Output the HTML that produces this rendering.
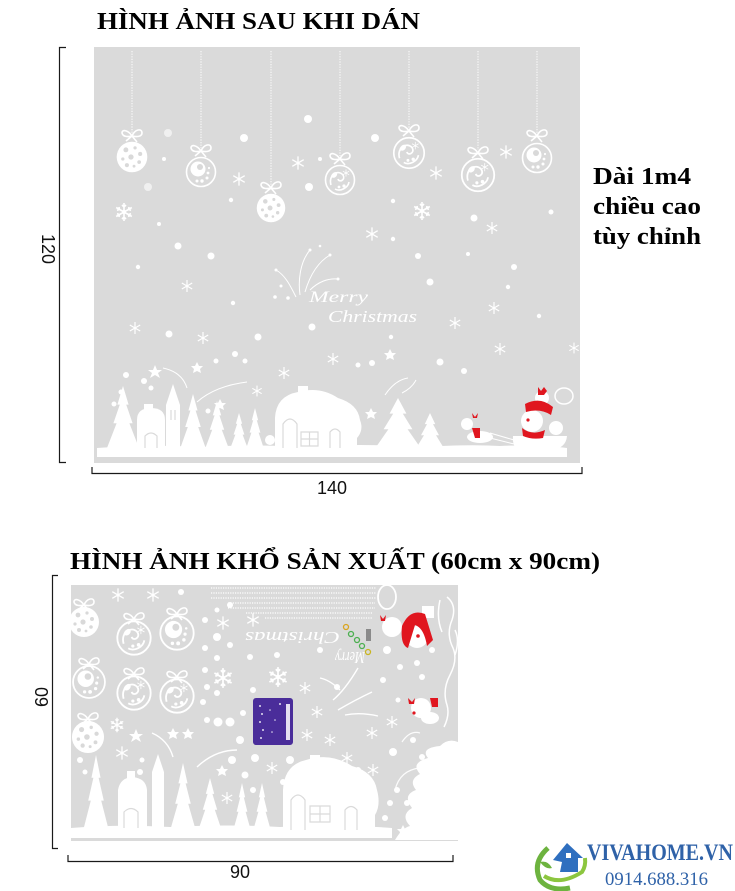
<!DOCTYPE html>
<html><head><meta charset="utf-8"><style>
html,body{margin:0;padding:0;background:#fff;}
svg{display:block;}
</style></head><body>
<svg width="735" height="891" viewBox="0 0 735 891" xmlns="http://www.w3.org/2000/svg">
<defs>
  <g id="sf"><path d="M0 -6V6M-5.2 -3L5.2 3M-5.2 3L5.2 -3" stroke="#fff" stroke-width="1.2" fill="none"/><circle r="1.3" fill="#fff"/></g>
  <g id="sfb"><path d="M0 -9V9M-7.8 -4.5L7.8 4.5M-7.8 4.5L7.8 -4.5M-2 -7L0 -5L2 -7M-2 7L0 5L2 7M-7 -1.6L-4.5 -2.6L-5 -5M7 1.6L4.5 2.6L5 5M7 -1.6L4.5 -2.6L5 -5M-7 1.6L-4.5 2.6L-5 5" stroke="#fff" stroke-width="1.6" fill="none"/><circle r="2" fill="#fff"/></g>
  <g id="bow"><path d="M0 0C-4 -6 -10 -7 -10 -3C-9 1 -4 1 0 0C3 -7 10 -8 10 -3C10 1 4 1 0 0M0 0L-6 5M0 0L5 6" stroke="#fff" stroke-width="1.6" fill="none"/></g>
  <g id="ballF"><circle r="15" fill="#fff"/>
    <circle cx="-6" cy="-7" r="2.4" fill="#d9d9d9"/><circle cx="3" cy="-9" r="1.6" fill="#d9d9d9"/><circle cx="8" cy="-3" r="2" fill="#d9d9d9"/>
    <circle cx="-9" cy="2" r="1.6" fill="#d9d9d9"/><circle cx="-1" cy="0" r="2.6" fill="#d9d9d9"/><circle cx="7" cy="5" r="1.8" fill="#d9d9d9"/>
    <circle cx="-5" cy="8" r="2" fill="#d9d9d9"/><circle cx="2" cy="9" r="1.4" fill="#d9d9d9"/></g>
  <g id="ballR"><circle r="14.5" fill="none" stroke="#fff" stroke-width="1.6"/><circle cx="-3" cy="-3" r="7.5" fill="#fff"/><circle cx="-1" cy="-5" r="3" fill="#d9d9d9"/>
    <circle cx="7" cy="1" r="1.4" fill="#fff"/><circle cx="6" cy="6" r="1.5" fill="#fff"/><circle cx="1" cy="9" r="1.7" fill="#fff"/><circle cx="-4" cy="9" r="1.5" fill="#fff"/><circle cx="8" cy="-4" r="1.1" fill="#fff"/></g>
  <g id="ballS"><circle r="14.5" fill="none" stroke="#fff" stroke-width="1.6"/>
    <path d="M-9 5C-12 -5 -2 -11 3 -5C6 0 -1 3 -2 -1M-5 9C0 12 8 8 9 2" stroke="#fff" stroke-width="1.6" fill="none"/>
    <path d="M-9 -4C-7 -9 -2 -9 -3 -5C-4 -2 -8 -1 -9 -4Z" fill="#fff"/>
    <circle cx="4" cy="6" r="1.6" fill="#fff"/><circle cx="-1" cy="7" r="1.4" fill="#fff"/>
    <use href="#sf" transform="translate(6 -7) scale(0.6)"/></g>
  <path id="tree" d="M0 0L0.35 0.3L0.2 0.3L0.6 0.6L0.4 0.6L1 1L-1 1L-0.4 0.6L-0.6 0.6L-0.2 0.3L-0.35 0.3Z" fill="#fff"/>
</defs>

<!-- Title 1 -->
<text x="97" y="29" font-family="Liberation Serif, serif" font-weight="bold" font-size="24" fill="#000" textLength="323" lengthAdjust="spacingAndGlyphs">HÌNH ẢNH SAU KHI DÁN</text>

<!-- Panel 1 -->
<rect x="94" y="47" width="486" height="416" fill="#dadada"/>

<!-- strings -->
<g stroke="#fff" stroke-width="1" stroke-dasharray="1.2 1.4">
  <line x1="132" y1="51" x2="132" y2="133"/>
  <line x1="201" y1="51" x2="201" y2="148"/>
  <line x1="271" y1="51" x2="271" y2="185"/>
  <line x1="340" y1="51" x2="340" y2="156"/>
  <line x1="409" y1="51" x2="409" y2="128"/>
  <line x1="478" y1="51" x2="478" y2="150"/>
  <line x1="537" y1="51" x2="537" y2="133"/>
</g>
<use href="#bow" transform="translate(132 136)"/>
<use href="#bow" transform="translate(201 151)"/>
<use href="#bow" transform="translate(271 188)"/>
<use href="#bow" transform="translate(340 159)"/>
<use href="#bow" transform="translate(409 131)"/>
<use href="#bow" transform="translate(478 153)"/>
<use href="#bow" transform="translate(537 136)"/>
<use href="#ballF" transform="translate(132 157) scale(1.02)"/>
<use href="#ballR" transform="translate(201 172)"/>
<use href="#ballF" transform="translate(271 208) scale(0.95)"/>
<use href="#ballS" transform="translate(340 180)"/>
<use href="#ballS" transform="translate(409 153) scale(1.05)"/>
<use href="#ballS" transform="translate(478 175) scale(1.12)"/>
<use href="#ballR" transform="translate(537 158)"/>

<!-- dots panel1 -->
<g fill="#fff">
  <circle cx="308" cy="119" r="4"/><circle cx="168" cy="133" r="4" opacity="0.6"/><circle cx="244" cy="138" r="4"/><circle cx="375" cy="138" r="4"/>
  <circle cx="164" cy="159" r="2"/><circle cx="320" cy="159" r="2"/><circle cx="148" cy="187" r="4" opacity="0.6"/><circle cx="309" cy="187" r="4"/>
  <circle cx="231" cy="200" r="2.2"/><circle cx="393" cy="201" r="2.2"/><circle cx="551" cy="212" r="2.5"/><circle cx="474" cy="218" r="3.5"/>
  <circle cx="159" cy="224" r="2"/><circle cx="393" cy="239" r="2.2"/><circle cx="178" cy="246" r="3.5"/><circle cx="211" cy="256" r="3.5"/>
  <circle cx="418" cy="256" r="3"/><circle cx="468" cy="254" r="2"/><circle cx="138" cy="267" r="2.2"/><circle cx="514" cy="267" r="3"/>
  <circle cx="430" cy="282" r="3.5"/><circle cx="508" cy="287" r="2.2"/><circle cx="233" cy="303" r="2.2"/><circle cx="312" cy="327" r="3.5"/>
  <circle cx="169" cy="334" r="3.5"/><circle cx="258" cy="337" r="3.5"/><circle cx="391" cy="337" r="2.2"/><circle cx="539" cy="316" r="2.2"/>
  <circle cx="235" cy="354" r="3"/><circle cx="440" cy="362" r="3.5"/><circle cx="464" cy="371" r="3"/><circle cx="358" cy="365" r="2.5"/>
  <circle cx="372" cy="363" r="3"/><circle cx="216" cy="361" r="2.5"/><circle cx="126" cy="375" r="3"/><circle cx="245" cy="361" r="2.5"/>
  <circle cx="121" cy="392" r="2.5"/><circle cx="114" cy="404" r="2.5"/><circle cx="151" cy="388" r="2.5"/><circle cx="144" cy="381" r="3"/>
  <circle cx="208" cy="411" r="2.5"/><circle cx="270" cy="440" r="5"/>
</g>
<!-- snowflakes panel1 -->
<use href="#sfb" transform="translate(124 212)"/>
<use href="#sfb" transform="translate(422 211)"/>
<use href="#sf" transform="translate(492 228)"/>
<use href="#sf" transform="translate(298 163) scale(1.1)"/>
<use href="#sf" transform="translate(239 179) scale(1.1)"/>
<use href="#sf" transform="translate(436 173) scale(1.1)"/>
<use href="#sf" transform="translate(506 152) scale(1.1)"/>
<use href="#sf" transform="translate(372 234) scale(1.1)"/>
<use href="#sf" transform="translate(187 286)"/>
<use href="#sf" transform="translate(135 328)"/>
<use href="#sf" transform="translate(203 338)"/>
<use href="#sf" transform="translate(455 323)"/>
<use href="#sf" transform="translate(494 308)"/>
<use href="#sf" transform="translate(500 349)"/>
<use href="#sf" transform="translate(333 359)"/>
<use href="#sf" transform="translate(284 373)"/>
<use href="#sf" transform="translate(257 391) scale(0.9)"/>
<use href="#sf" transform="translate(574 348) scale(0.9)"/>

<!-- Merry Christmas top -->
<g stroke="#fff" stroke-width="1" fill="none">
  <path d="M300 295C298 280 300 262 310 250M305 292C310 275 318 262 330 255M296 297C290 285 285 275 276 270M310 290C318 282 328 278 338 279"/>
</g>
<g fill="#fff"><circle cx="310" cy="250" r="1.5"/><circle cx="330" cy="255" r="1.5"/><circle cx="276" cy="270" r="1.5"/><circle cx="338" cy="279" r="1.5"/><circle cx="320" cy="246" r="1.3"/><circle cx="281" cy="286" r="1.5"/><circle cx="288" cy="298" r="1.8"/><circle cx="275" cy="297" r="1.8"/></g>
<text x="309" y="302" font-family="Liberation Serif, serif" font-style="italic" font-size="16" fill="#fff" textLength="59" lengthAdjust="spacingAndGlyphs">Merry</text>
<text x="328" y="322" font-family="Liberation Serif, serif" font-style="italic" font-size="17" fill="#fff" textLength="89" lengthAdjust="spacingAndGlyphs">Christmas</text>

<!-- village panel1 -->
<g fill="#fff">
  <use href="#tree" transform="translate(123 386) scale(16 62)"/>
  <path d="M137 450V420Q137 408 151 408Q165 408 165 420V450Z"/>
  <rect x="144" y="404" width="9" height="7"/>
  <path d="M166 450V405L173 384L180 405V450Z"/>
  <use href="#tree" transform="translate(193 394) scale(13 55)"/>
  <use href="#tree" transform="translate(217 401) scale(12 48)"/>
  <use href="#tree" transform="translate(239 413) scale(9 36)"/>
  <use href="#tree" transform="translate(255 408) scale(9 41)"/>
  <path d="M275 450V418Q276 396 298 392Q320 386 338 398Q358 404 360 420Q364 430 357 438V450Z"/>
  <rect x="298" y="386" width="10" height="10"/>
  <use href="#tree" transform="translate(398 398) scale(24 52)"/>
  <use href="#tree" transform="translate(430 413) scale(15 37)"/>
  <path d="M97 448Q150 444 200 447Q260 444 300 447Q360 443 420 447Q470 444 500 446Q540 444 567 448V457H97Z"/>
  <circle cx="467" cy="424" r="6"/>
  <ellipse cx="480" cy="437" rx="13" ry="6"/>
  <path d="M513 436H567Q566 448 552 450H520Q512 448 513 436Z"/>
  <circle cx="532" cy="421" r="11"/>
  <circle cx="542" cy="398" r="7"/>
  <circle cx="556" cy="428" r="7"/>
</g>
<ellipse cx="564" cy="396" rx="9" ry="8" fill="none" stroke="#fff" stroke-width="1.5"/>
<!-- house windows -->
<g stroke="#dadada" stroke-width="1.2" fill="none">
  <path d="M283 448V424Q290 414 297 424V448M301 432H318V446H301ZM309.5 432V446M301 439H318M330 448V432Q335 426 340 432V448M145 448V436Q151 430 157 436V448M171 410V420M175 410V420"/>
</g>
<g stroke="#fff" stroke-width="1" fill="none">
  <path d="M163 368Q182 372 187 388M197 402Q215 386 247 382M385 395Q395 380 408 378M402 393Q412 388 416 380M490 433L514 440M490 438L514 444"/>
</g>
<g fill="#fff">
  <path d="M155 365L157 370L162 370L158 373L160 378L155 375L150 378L152 373L148 370L153 370Z"/>
  <path d="M197 362L199 366L203 366L200 369L201 373L197 371L193 373L194 369L191 366L195 366Z"/>
  <path d="M220 399L222 403L226 403L223 406L224 410L220 408L216 410L217 406L214 403L218 403Z"/>
  <path d="M390 349L392 353L396 353L393 356L394 360L390 358L386 360L387 356L384 353L388 353Z"/>
  <path d="M371 408L373 412L377 412L374 415L375 419L371 417L367 419L368 415L365 412L369 412Z"/>
</g>
<g fill="#e0161f">
  <path d="M472 413l3 4l3 -4l-1 5h-4z"/>
  <path d="M472 428h8v10h-5z"/>
  <path d="M538 387l3 4l3 -4l3 4l-3 4h-6z"/>
  <path d="M525 404Q540 396 553 407L551 415Q540 408 526 412Z"/>
  <path d="M522 428Q532 436 545 430L543 438Q532 440 523 436Z"/>
  <circle cx="528" cy="420" r="1.6"/>
</g>

<!-- right text -->
<g font-family="Liberation Serif, serif" font-weight="bold" font-size="24" fill="#000">
  <text x="593" y="184" textLength="98" lengthAdjust="spacingAndGlyphs">Dài 1m4</text>
  <text x="593" y="214" textLength="108" lengthAdjust="spacingAndGlyphs">chiều cao</text>
  <text x="593" y="244" textLength="108" lengthAdjust="spacingAndGlyphs">tùy chỉnh</text>
</g>

<!-- brackets panel 1 -->
<g stroke="#1a1a1a" stroke-width="1.2" fill="none">
  <path d="M66 47.5H59.5V462.5H66"/>
  <path d="M92 467V473.5H582V467"/>
</g>
<g font-family="Liberation Sans, sans-serif" font-size="18" fill="#111">
  <text transform="translate(42 249) rotate(90)" text-anchor="middle">120</text>
  <text x="332" y="494" text-anchor="middle">140</text>
</g>

<!-- Title 2 -->
<text x="70" y="569" font-family="Liberation Serif, serif" font-weight="bold" font-size="24" fill="#000" textLength="530" lengthAdjust="spacingAndGlyphs">HÌNH ẢNH KHỔ SẢN XUẤT (60cm x 90cm)</text>

<!-- Panel 2 -->
<rect x="71" y="585" width="387" height="256" fill="#dadada"/>
<g stroke="#fff" stroke-width="1.2" stroke-dasharray="1.2 1.2">
  <line x1="211" y1="588" x2="376" y2="588"/>
  <line x1="211" y1="593" x2="376" y2="593"/>
  <line x1="211" y1="598" x2="376" y2="598"/>
  <line x1="228" y1="603" x2="375" y2="603"/>
  <line x1="228" y1="608" x2="375" y2="608"/>
  <line x1="246" y1="613" x2="372" y2="613"/>
  <line x1="265" y1="618" x2="372" y2="618"/>
</g>
<use href="#bow" transform="translate(84 605)"/>
<use href="#bow" transform="translate(134 619)"/>
<use href="#bow" transform="translate(177 614)"/>
<use href="#bow" transform="translate(89 664)"/>
<use href="#bow" transform="translate(134 674)"/>
<use href="#bow" transform="translate(177 677)"/>
<use href="#bow" transform="translate(88 719)"/>
<use href="#ballF" transform="translate(84 622) scale(1.0)"/>
<use href="#ballS" transform="translate(134 638) scale(1.15)"/>
<use href="#ballR" transform="translate(177 633) scale(1.15)"/>
<use href="#ballR" transform="translate(89 682) scale(1.1)"/>
<use href="#ballS" transform="translate(134 693) scale(1.15)"/>
<use href="#ballS" transform="translate(177 696) scale(1.15)"/>
<use href="#ballF" transform="translate(88 737) scale(1.07)"/>
<use href="#sf" transform="translate(118 595) scale(1.1)"/>
<use href="#sf" transform="translate(153 595) scale(1.1)"/>
<use href="#sfb" transform="translate(117 725) scale(0.8)"/>
<use href="#sf" transform="translate(122 753) scale(1.1)"/>
<use href="#sf" transform="translate(223 623) scale(1.1)"/>
<use href="#sf" transform="translate(253 620) scale(1.1)"/>
<use href="#sfb" transform="translate(223 678) scale(1.1)"/>
<use href="#sfb" transform="translate(278 677) scale(1.1)"/>
<use href="#sf" transform="translate(305 688)"/>
<use href="#sf" transform="translate(317 712)"/>
<use href="#sf" transform="translate(307 735)"/>
<use href="#sf" transform="translate(330 740)"/>
<use href="#sf" transform="translate(347 758)"/>
<use href="#sf" transform="translate(272 768)"/>
<use href="#sf" transform="translate(372 733)"/>
<use href="#sf" transform="translate(392 722)"/>
<use href="#sf" transform="translate(373 770)"/>
<use href="#sf" transform="translate(227 798)"/>
<g fill="#fff">
  <circle cx="181" cy="592" r="3"/><circle cx="230" cy="605" r="3"/><circle cx="217" cy="610" r="2.5"/><circle cx="205" cy="620" r="3"/>
  <circle cx="217" cy="637" r="4"/><circle cx="205" cy="648" r="3"/><circle cx="230" cy="645" r="3"/><circle cx="217" cy="658" r="3"/>
  <circle cx="205" cy="670" r="3"/><circle cx="207" cy="687" r="3"/><circle cx="203" cy="702" r="3"/><circle cx="217" cy="693" r="3"/>
  <circle cx="218" cy="722" r="4.5"/><circle cx="230" cy="722" r="4.5"/><circle cx="207" cy="720" r="3"/><circle cx="80" cy="760" r="3"/>
  <circle cx="85" cy="772" r="2.5"/><circle cx="142" cy="760" r="2.5"/><circle cx="140" cy="772" r="3"/>
  <circle cx="250" cy="657" r="3"/><circle cx="277" cy="655" r="3"/><circle cx="320" cy="650" r="3"/><circle cx="387" cy="650" r="4"/>
  <circle cx="417" cy="663" r="3"/><circle cx="337" cy="687" r="3"/><circle cx="253" cy="690" r="3"/><circle cx="243" cy="713" r="3"/>
  <circle cx="255" cy="758" r="4"/><circle cx="290" cy="760" r="4"/><circle cx="283" cy="782" r="3"/><circle cx="253" cy="790" r="3"/>
  <circle cx="393" cy="752" r="4"/><circle cx="413" cy="740" r="3"/><circle cx="422" cy="757" r="3"/><circle cx="397" cy="790" r="3"/>
  <circle cx="390" cy="803" r="3"/><circle cx="407" cy="803" r="3"/><circle cx="420" cy="782" r="3"/><circle cx="385" cy="818" r="3"/>
  <circle cx="422" cy="677" r="3"/><circle cx="432" cy="650" r="3"/><circle cx="400" cy="667" r="3"/><circle cx="383" cy="680" r="3"/>
  <circle cx="240" cy="740" r="4"/><circle cx="232" cy="760" r="4"/><circle cx="245" cy="775" r="3.5"/><circle cx="262" cy="735" r="3"/>
  <circle cx="398" cy="700" r="2.5"/><circle cx="358" cy="770" r="3"/><circle cx="348" cy="790" r="3"/><circle cx="242" cy="808" r="3"/>
</g>
<g fill="#fff">
  <path d="M136 729L138 734L143 734L139 737L141 742L136 739L131 742L133 737L129 734L134 734Z"/>
  <path d="M173 728L175 732L179 732L176 735L177 739L173 737L169 739L170 735L167 732L171 732Z"/>
  <path d="M188 728L190 732L194 732L191 735L192 739L188 737L184 739L185 735L182 732L186 732Z"/>
  <path d="M222 765L224 769L228 769L225 772L226 776L222 774L218 776L219 772L216 769L220 769Z"/>
  <path d="M403 825L405 829L409 829L406 832L407 836L403 834L399 836L400 832L397 829L401 829Z"/>
</g>
<g stroke="#fff" stroke-width="1.4" fill="none">
  <path d="M152 733Q168 740 173 757M197 767Q215 750 237 750M333 700Q345 690 358 668M338 710Q355 700 372 692M345 715Q360 712 378 716M340 690Q330 680 320 678"/>
</g>
<text transform="translate(340 632) rotate(180)" font-family="Liberation Serif, serif" font-style="italic" font-size="17" fill="#fff" textLength="95" lengthAdjust="spacingAndGlyphs">Christmas</text>
<text transform="translate(365 652) rotate(180)" font-family="Liberation Serif, serif" font-style="italic" font-size="17" fill="#fff" textLength="30" lengthAdjust="spacingAndGlyphs">Merry</text>
<g fill="none" stroke-width="1.3">
  <circle cx="346" cy="627" r="2.5" stroke="#d9a520"/>
  <circle cx="351" cy="634" r="2.5" stroke="#4caf50"/>
  <circle cx="357" cy="640" r="2.5" stroke="#4caf50"/>
  <circle cx="362" cy="646" r="2.5" stroke="#4caf50"/>
  <circle cx="368" cy="652" r="2.5" stroke="#c9b520"/>
</g>
<rect x="366" y="629" width="5" height="12" fill="#8a8a8a"/>
<ellipse cx="387" cy="597" rx="9" ry="12" fill="none" stroke="#fff" stroke-width="1.8"/>
<g fill="#fff">
  <circle cx="392" cy="627" r="10"/>
  <circle cx="417" cy="637" r="11"/>
  <rect x="422" y="606" width="12" height="12"/>
  <circle cx="421" cy="708" r="10"/>
  <ellipse cx="430" cy="718" rx="9" ry="6"/>
</g>
<g fill="#e0161f">
  <path d="M402 626Q410 608 425 614L433 640L427 646Q424 628 415 625L408 648Q400 645 402 626Z"/>
  <path d="M380 615l3 4l3 -4l-1 6h-4z"/>
  <path d="M408 698l4 4l3 -4l-1 6h-5z"/>
  <path d="M430 698h8v9h-6z"/>
  <circle cx="418" cy="636" r="1.8"/>
  <circle cx="414" cy="713" r="1.6"/>
</g>
<g stroke="#fff" stroke-width="1.5" fill="none">
  <path d="M447 597Q457 605 452 620Q446 634 453 648Q458 660 450 675Q442 690 447 705Q450 715 444 727M440 600Q436 618 442 632M455 630Q460 640 455 655"/>
</g>
<rect x="253" y="698" width="40" height="47" rx="3" fill="#4a2d9a"/>
<g fill="#fff" opacity="0.85">
  <circle cx="260" cy="706" r="1"/><circle cx="262" cy="714" r="1"/><circle cx="260" cy="722" r="1"/><circle cx="263" cy="730" r="1"/><circle cx="261" cy="738" r="1"/>
  <circle cx="270" cy="710" r="0.8"/><circle cx="275" cy="720" r="0.8"/><circle cx="272" cy="732" r="0.8"/><circle cx="280" cy="704" r="1"/>
  <rect x="286" y="704" width="4" height="36"/>
</g>
<g fill="#fff">
  <use href="#tree" transform="translate(96 755) scale(13 76)"/>
  <path d="M118 830V790Q120 778 132 777Q146 778 147 790V830Z"/>
  <rect x="127" y="771" width="8" height="8"/>
  <path d="M152 830V772L158 754L164 772V830Z"/>
  <use href="#tree" transform="translate(183 763) scale(13 68)"/>
  <use href="#tree" transform="translate(210 778) scale(12 53)"/>
  <use href="#tree" transform="translate(242 783) scale(9 48)"/>
  <use href="#tree" transform="translate(262 783) scale(9 48)"/>
  <path d="M283 834V790Q284 765 306 760Q330 752 352 766Q374 772 377 790Q381 805 375 815V834Z"/>
  <rect x="310" y="755" width="10" height="12"/>
  <path d="M71 828Q120 824 170 827Q230 824 280 827Q340 824 392 828V838H71Z"/>
  <path d="M458 742V840H395Q402 828 410 826Q400 815 412 808Q402 795 416 790Q408 780 420 774Q410 763 428 758Q420 748 440 746Q448 738 458 742Z"/>
</g>
<g stroke="#dadada" stroke-width="1.2" fill="none">
  <path d="M291 830V800Q298 790 305 800V830M310 806H330V822H310ZM320 806V822M310 814H330M345 830V810Q351 803 357 810V830M124 828V812Q131 805 138 812V828"/>
</g>
<g stroke="#fff" stroke-width="1.2" fill="none" opacity="0.9">
  <path d="M395 790Q400 770 420 768M402 742Q410 730 420 733"/>
</g>

<!-- brackets panel 2 -->
<g stroke="#1a1a1a" stroke-width="1.2" fill="none">
  <path d="M58 575.5H52.5V848.5H58"/>
  <path d="M68 855V861.5H453V855"/>
</g>
<g font-family="Liberation Sans, sans-serif" font-size="18" fill="#111">
  <text transform="translate(48 697) rotate(-90)" text-anchor="middle">60</text>
  <text x="240" y="878" text-anchor="middle">90</text>
</g>

<!-- logo -->
<g>
  <path d="M548 848Q532 862 540 880Q550 892 570 888" stroke="#6db33f" stroke-width="5" fill="none"/>
  <path d="M544 876Q560 886 582 872Q586 866 585 858" stroke="#8cc63f" stroke-width="4" fill="none"/>
  <path d="M540 862Q548 860 552 868Q546 870 540 862Z" fill="#6db33f"/>
  <path d="M553 860L567 843L583 858L578 858L578 872L560 872L562 862Z" fill="#2f6fbf"/>
  <rect x="566" y="853" width="5" height="5" fill="#fff"/>
</g>
<text x="587" y="860" font-family="Liberation Serif, serif" font-weight="bold" font-size="23" fill="#2f62a8" textLength="146" lengthAdjust="spacingAndGlyphs">VIVAHOME.VN</text>
<text x="605" y="885" font-family="Liberation Serif, serif" font-size="19" fill="#2f62a8" textLength="103" lengthAdjust="spacingAndGlyphs">0914.688.316</text>
</svg>
</body></html>
